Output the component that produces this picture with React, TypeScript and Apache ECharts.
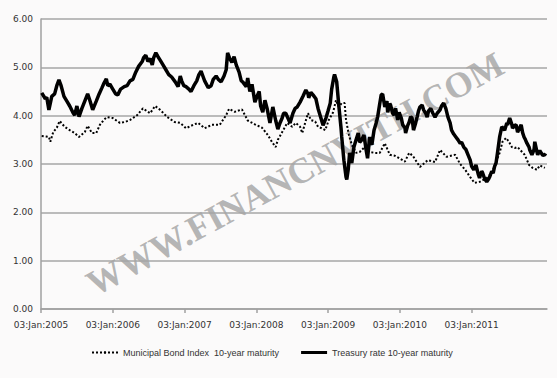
import React, { useEffect, useRef } from "react";
import * as echarts from "echarts";

const yearTicks = [2005, 2006, 2007, 2008, 2009, 2010, 2011];

const treasuryDates = [
  2005.01, 2005.06, 2005.08, 2005.11, 2005.15, 2005.19, 2005.22, 2005.25, 2005.28, 2005.32,
  2005.36, 2005.40, 2005.45, 2005.47, 2005.50, 2005.53, 2005.57, 2005.61, 2005.65, 2005.68,
  2005.72, 2005.77, 2005.81, 2005.85, 2005.88, 2005.91, 2005.93, 2005.96, 2006.00, 2006.04,
  2006.07, 2006.11, 2006.16, 2006.20, 2006.24, 2006.28, 2006.32, 2006.36, 2006.41, 2006.43,
  2006.46, 2006.49, 2006.52, 2006.55, 2006.57, 2006.60, 2006.63, 2006.66, 2006.70, 2006.74,
  2006.78, 2006.82, 2006.87, 2006.91, 2006.94, 2006.96, 2006.99, 2007.02, 2007.06, 2007.09,
  2007.13, 2007.17, 2007.20, 2007.23, 2007.26, 2007.28, 2007.33, 2007.37, 2007.40, 2007.44,
  2007.47, 2007.51, 2007.55, 2007.58, 2007.60, 2007.63, 2007.66, 2007.69, 2007.72, 2007.76,
  2007.79, 2007.81, 2007.86, 2007.88, 2007.91, 2007.94, 2007.98, 2008.01, 2008.04, 2008.06,
  2008.09, 2008.12, 2008.15, 2008.19, 2008.23, 2008.27, 2008.30, 2008.33, 2008.36, 2008.38,
  2008.41, 2008.44, 2008.47, 2008.51, 2008.54, 2008.57, 2008.61, 2008.65, 2008.69, 2008.72,
  2008.73, 2008.76, 2008.79, 2008.83, 2008.86, 2008.90, 2008.93, 2008.97, 2009.00, 2009.03,
  2009.05, 2009.08, 2009.09, 2009.12, 2009.15, 2009.18, 2009.19, 2009.22, 2009.25, 2009.26,
  2009.28, 2009.30, 2009.33, 2009.36, 2009.39, 2009.42, 2009.44, 2009.47, 2009.50, 2009.53,
  2009.55, 2009.58, 2009.61, 2009.64, 2009.67, 2009.69, 2009.72, 2009.74, 2009.76, 2009.79,
  2009.82, 2009.83, 2009.86, 2009.87, 2009.90, 2009.92, 2009.94, 2009.97, 2009.99, 2010.02,
  2010.04, 2010.07, 2010.08, 2010.11, 2010.13, 2010.15, 2010.17, 2010.19, 2010.22, 2010.24,
  2010.26, 2010.28, 2010.31, 2010.33, 2010.36, 2010.38, 2010.40, 2010.43, 2010.46, 2010.49,
  2010.52, 2010.56, 2010.58, 2010.61, 2010.64, 2010.67, 2010.70, 2010.72, 2010.75, 2010.78,
  2010.81, 2010.84, 2010.86, 2010.89, 2010.92, 2010.95, 2010.98, 2011.00, 2011.03, 2011.06,
  2011.09, 2011.11, 2011.14, 2011.15, 2011.18, 2011.21, 2011.24, 2011.25, 2011.28, 2011.30,
  2011.32, 2011.34, 2011.36, 2011.39, 2011.42, 2011.45, 2011.46, 2011.49, 2011.50, 2011.53,
  2011.56, 2011.57, 2011.60, 2011.62, 2011.64, 2011.67, 2011.69, 2011.71, 2011.73, 2011.75,
  2011.77, 2011.80, 2011.81, 2011.84, 2011.87, 2011.88, 2011.91, 2011.92, 2011.95, 2011.96,
  2011.99, 2012.02, 2012.03,
];

const treasuryRates = [
  4.47, 4.35, 4.38, 4.12, 4.40, 4.45, 4.62, 4.74, 4.62, 4.40,
  4.30, 4.20, 4.05, 4.01, 4.20, 3.98, 4.15, 4.30, 4.45, 4.32,
  4.12, 4.30, 4.45, 4.58, 4.68, 4.76, 4.62, 4.65, 4.55, 4.45,
  4.43, 4.55, 4.60, 4.62, 4.72, 4.75, 4.90, 5.02, 5.12, 5.20,
  5.25, 5.12, 5.18, 5.05, 5.20, 5.30, 5.22, 5.15, 5.05, 4.95,
  4.85, 4.80, 4.70, 4.60, 4.82, 4.72, 4.62, 4.60, 4.55, 4.50,
  4.62, 4.72, 4.85, 4.92, 4.80, 4.72, 4.58, 4.62, 4.75, 4.82,
  4.75, 4.70, 4.82, 4.95, 5.30, 5.18, 5.10, 5.22, 5.05, 4.90,
  4.72, 4.70, 4.60, 4.78, 4.50, 4.65, 4.28, 4.40, 4.50, 4.20,
  4.07, 4.32, 4.15, 3.85, 4.18, 3.90, 3.72, 3.85, 3.95, 4.05,
  4.05, 3.95, 3.85, 4.05, 4.15, 4.18, 4.28, 4.40, 4.53, 4.45,
  4.37, 4.48, 4.43, 4.35, 4.15, 3.95, 3.80, 3.95, 4.10, 4.26,
  4.55, 4.80, 4.85, 4.70, 4.20, 3.75, 3.56, 3.08, 2.73, 2.68,
  2.88, 3.23, 3.02, 3.35, 3.50, 3.64, 3.45, 3.50, 3.60, 3.29,
  3.12, 3.56, 3.40, 3.70, 3.85, 3.97, 4.25, 4.43, 4.45, 4.18,
  4.30, 4.07, 4.25, 4.22, 4.05, 4.01, 4.15, 3.91, 4.07, 3.95,
  3.81, 3.75, 3.64, 3.80, 3.87, 3.98, 3.95, 3.70, 3.85, 3.97,
  4.10, 4.18, 4.22, 4.12, 4.05, 3.97, 4.10, 4.15, 4.05, 3.97,
  4.05, 4.12, 4.20, 4.26, 4.15, 3.97, 3.85, 3.70, 3.62, 3.56,
  3.50, 3.43, 3.45, 3.35, 3.30, 3.19, 3.08, 2.95, 2.88, 2.98,
  2.80, 2.71, 2.85, 2.83, 2.70, 2.63, 2.70, 2.73, 2.85, 2.81,
  2.95, 3.02, 3.23, 3.56, 3.77, 3.72, 3.70, 3.85, 3.81, 3.95,
  3.82, 3.74, 3.80, 3.81, 3.66, 3.75, 3.81, 3.65, 3.56, 3.50,
  3.43, 3.35, 3.29, 3.19, 3.30, 3.46, 3.25, 3.19, 3.28, 3.25,
  3.18, 3.19, 3.22,
];

const muniDates = [
  2005.01, 2005.07, 2005.11, 2005.13, 2005.17, 2005.22, 2005.26, 2005.33, 2005.40, 2005.47,
  2005.53, 2005.61, 2005.65, 2005.71, 2005.77, 2005.82, 2005.88, 2005.92, 2006.00, 2006.10,
  2006.17, 2006.24, 2006.34, 2006.42, 2006.52, 2006.59, 2006.66, 2006.76, 2006.86, 2006.94,
  2007.02, 2007.12, 2007.19, 2007.28, 2007.38, 2007.49, 2007.58, 2007.62, 2007.70, 2007.80,
  2007.88, 2007.98, 2008.08, 2008.16, 2008.22, 2008.27, 2008.30, 2008.36, 2008.43, 2008.50,
  2008.55, 2008.61, 2008.64, 2008.68, 2008.72, 2008.76, 2008.82, 2008.86, 2008.91, 2008.96,
  2009.01, 2009.07, 2009.11, 2009.15, 2009.19, 2009.23, 2009.25, 2009.29, 2009.33, 2009.39,
  2009.44, 2009.51, 2009.58, 2009.65, 2009.72, 2009.79, 2009.86, 2009.93, 2009.99, 2010.07,
  2010.13, 2010.18, 2010.28, 2010.39, 2010.49, 2010.56, 2010.65, 2010.77, 2010.84, 2010.91,
  2010.98, 2011.04, 2011.11, 2011.21, 2011.28, 2011.35, 2011.39, 2011.43, 2011.48, 2011.52,
  2011.56, 2011.60, 2011.64, 2011.69, 2011.74, 2011.80, 2011.85, 2011.91, 2011.95, 2012.02,
];

const muniRates = [
  3.58, 3.57, 3.56, 3.46, 3.66, 3.75, 3.89, 3.77, 3.70, 3.64,
  3.56, 3.66, 3.79, 3.64, 3.64, 3.81, 3.92, 3.97, 3.95, 3.85,
  3.87, 3.91, 4.01, 4.15, 4.05, 4.20, 4.12, 3.97, 3.87, 3.85,
  3.74, 3.81, 3.85, 3.74, 3.81, 3.81, 4.01, 4.14, 4.08, 4.13,
  3.90, 3.82, 3.75, 3.60, 3.45, 3.35, 3.50, 3.66, 3.85, 3.77,
  3.85, 3.77, 3.64, 3.85, 4.05, 3.91, 3.88, 3.77, 3.74, 3.70,
  3.91, 4.07, 4.32, 4.18, 4.26, 4.26, 3.91, 3.60, 3.40, 3.23,
  3.25, 3.35, 3.25, 3.23, 3.23, 3.43, 3.19, 3.17, 3.12, 3.05,
  3.23, 3.17, 2.94, 3.08, 3.04, 3.29, 3.15, 3.19, 3.00, 2.88,
  2.73, 2.61, 2.63, 2.71, 2.81, 3.08, 3.23, 3.46, 3.54, 3.46,
  3.35, 3.33, 3.35, 3.27, 3.19, 2.98, 2.92, 2.88, 2.97, 2.92,
];

const muniName = "Municipal Bond Index  10-year maturity";
const treasuryName = "Treasury rate 10-year maturity";
const watermark = "WWW.FINANCNVITH.COM";

export default function App() {
  const ref = useRef<HTMLDivElement>(null);
  useEffect(() => {
    document.body.style.margin = "0";
    if (!ref.current) return;
    const chart = echarts.init(ref.current, null, { renderer: "svg" });
    const font = "DejaVu Sans";
    chart.setOption({
      animation: false,
      backgroundColor: "#fbfafa",
      grid: { left: 41, right: 10, top: 19, bottom: 69 },
      xAxis: {
        type: "value",
        min: 2005,
        max: 2012.05,
        interval: 1,
        splitLine: { show: false },
        axisLine: { lineStyle: { color: "#a0a0a0", width: 1.5 } },
        axisTick: { show: true, length: 4, customValues: yearTicks, lineStyle: { color: "#a0a0a0", width: 1.5 } },
        axisLabel: {
          customValues: yearTicks,
          formatter: (v: number) => `03:Jan:${Math.round(v)}`,
          fontFamily: font,
          fontSize: 9,
          color: "#333",
          margin: 11,
        },
      },
      yAxis: {
        type: "value",
        min: 0,
        max: 6,
        interval: 1,
        axisLine: { show: true, lineStyle: { color: "#a0a0a0", width: 1.5 } },
        axisTick: { show: false },
        splitLine: { lineStyle: { color: "#a6a6a6", width: 1.5 } },
        axisLabel: {
          formatter: (v: number) => v.toFixed(2),
          fontFamily: font,
          fontSize: 9,
          color: "#333",
          margin: 8,
        },
      },
      legend: {
        left: 86,
        top: 343,
        itemWidth: 26,
        itemHeight: 3,
        itemGap: 22,
        textStyle: { fontFamily: "Liberation Sans", fontSize: 9, color: "#333" },
        data: [{ name: muniName }, { name: treasuryName, icon: "rect" }],
      },
      graphic: [
        {
          type: "text",
          z: 0,
          x: 295,
          y: 174,
          rotation: 0.5,
          style: {
            text: watermark,
            font: "bold 36px 'Liberation Serif'",
            fill: "rgba(150,150,150,0.7)",
            align: "center",
            verticalAlign: "middle",
          },
        },
      ],
      series: [
        {
          name: muniName,
          type: "line",
          symbol: "none",
          z: 3,
          lineStyle: { color: "#000", width: 2, type: [2, 2] },
          itemStyle: { color: "#000" },
          data: muniDates.map((d, i) => [d, muniRates[i]]),
        },
        {
          name: treasuryName,
          type: "line",
          symbol: "none",
          z: 4,
          lineStyle: { color: "#000", width: 3.5 },
          itemStyle: { color: "#000" },
          data: treasuryDates.map((d, i) => [d, treasuryRates[i]]),
        },
      ],
    });
    return () => chart.dispose();
  }, []);
  return <div ref={ref} style={{ width: 557, height: 378 }} />;
}
